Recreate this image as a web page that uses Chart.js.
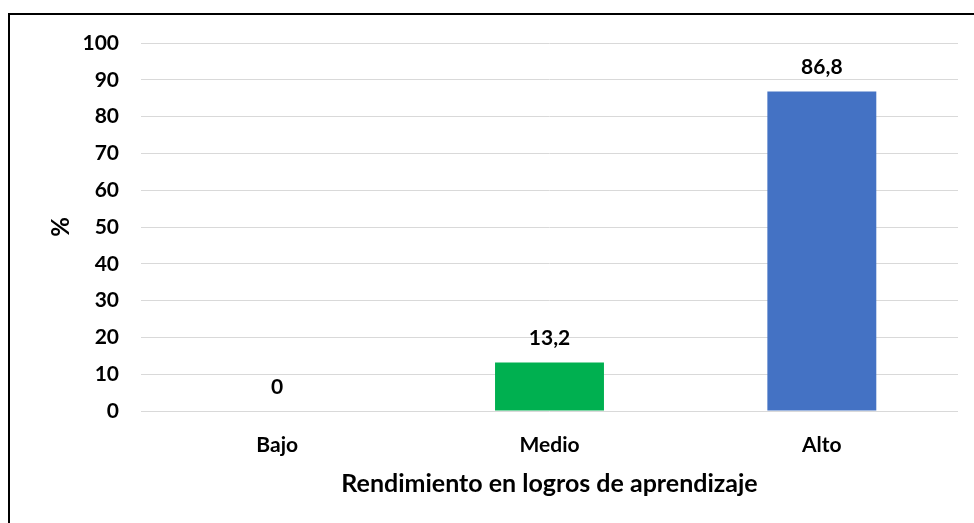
<!DOCTYPE html>
<html>
<head>
<meta charset="utf-8">
<script src="https://cdn.jsdelivr.net/npm/chart.js@4/dist/chart.umd.min.js"></script>
<style>
  html, body { margin: 0; padding: 0; background: #fff; }
  #wrap { position: relative; width: 974px; height: 523px; overflow: hidden; }
  #frame { position: absolute; left: 8px; top: 13px; width: 1000px; height: 600px;
           border-left: 2px solid #000; border-top: 2px solid #000; }
  canvas { position: absolute; left: 0; top: 0; }
</style>
</head>
<body>
<div id="wrap">
  <div id="frame"></div>
  <canvas id="chart" width="974" height="523"></canvas>
</div>
<script>
const categories = ['Bajo', 'Medio', 'Alto'];
const values = [0, 13.2, 86.8];
const barColors = ['#A5A5A5', '#00B050', '#4472C4'];
const yTicks = [0, 10, 20, 30, 40, 50, 60, 70, 80, 90, 100];

const FONT = 'Lato, "Open Sans", sans-serif';

// etiquetas encima de las barras
const valueLabels = {
  id: 'valueLabels',
  afterDatasetsDraw(chart) {
    const ctx = chart.ctx;
    const meta = chart.getDatasetMeta(0);
    ctx.save();
    ctx.font = 'bold 21px ' + FONT;
    ctx.fillStyle = '#000';
    ctx.textAlign = 'center';
    ctx.textBaseline = 'middle';
    meta.data.forEach((bar, i) => {
      const txt = String(values[i]).replace('.', ',');
      ctx.fillText(txt, bar.x, bar.y - 24);
    });
    ctx.restore();
  }
};

new Chart(document.getElementById('chart'), {
  type: 'bar',
  data: {
    labels: categories,
    datasets: [{
      data: values,
      backgroundColor: barColors,
      barPercentage: 0.4,
      categoryPercentage: 1
    }]
  },
  options: {
    responsive: false,
    animation: false,
    layout: { padding: { top: 43, right: 16, bottom: 0, left: 0 } },
    plugins: { legend: { display: false }, tooltip: { enabled: false } },
    scales: {
      x: {
        grid: { display: false, drawTicks: false },
        border: { display: false },
        ticks: { color: '#000', font: { family: FONT, size: 21, weight: 'bold' }, padding: 22 },
        title: {
          display: true,
          text: 'Rendimiento en logros de aprendizaje',
          color: '#000',
          font: { family: FONT, size: 25, weight: 'bold' },
          padding: { top: 0, bottom: 24 }
        },
        afterFit(s) { s.height = 112; }
      },
      y: {
        min: 0,
        max: 100,
        afterBuildTicks(s) { s.ticks = yTicks.map(v => ({ value: v })); },
        grid: { color: '#D9D9D9', lineWidth: 1, drawTicks: false },
        border: { display: false },
        ticks: { color: '#000', font: { family: FONT, size: 21, weight: 'bold' }, padding: 22 },
        title: {
          display: true,
          text: '%',
          color: '#000',
          font: { family: FONT, size: 24, weight: 'bold' },
          padding: { top: 47, bottom: 0 }
        },
        afterFit(s) { s.width = 141; }
      }
    }
  },
  plugins: [valueLabels]
});
</script>
</body>
</html>
